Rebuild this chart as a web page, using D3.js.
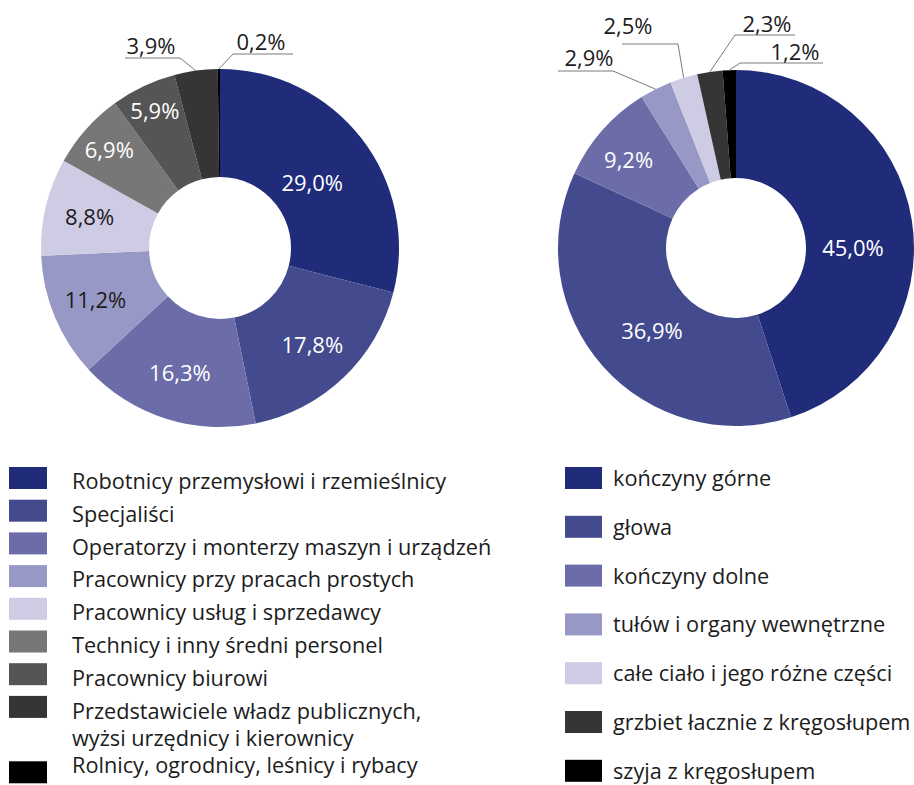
<!DOCTYPE html>
<html>
<head>
<meta charset="utf-8">
<script src="https://cdn.jsdelivr.net/npm/d3@7"></script>
<style>
  body { margin: 0; background: #fff; }
  svg { display: block; font-family: "Open Sans", sans-serif; }
</style>
</head>
<body>
<div id="chart"></div>
<script>
// Left donut: occupations
const jobLabels = [
  "Robotnicy przemysłowi i rzemieślnicy",
  "Specjaliści",
  "Operatorzy i monterzy maszyn i urządzeń",
  "Pracownicy przy pracach prostych",
  "Pracownicy usług i sprzedawcy",
  "Technicy i inny średni personel",
  "Pracownicy biurowi",
  "Przedstawiciele władz publicznych,\nwyżsi urzędnicy i kierownicy",
  "Rolnicy, ogrodnicy, leśnicy i rybacy"
];
const jobValues = [29.0, 17.8, 16.3, 11.2, 8.8, 6.9, 5.9, 3.9, 0.2];

// Right donut: injured body parts
const bodyLabels = [
  "kończyny górne",
  "głowa",
  "kończyny dolne",
  "tułów i organy wewnętrzne",
  "całe ciało i jego różne części",
  "grzbiet łacznie z kręgosłupem",
  "szyja z kręgosłupem"
];
const bodyValues = [45.0, 36.9, 9.2, 2.9, 2.5, 2.3, 1.2];

const jobColors = ["#202b7a", "#434b8e", "#6b6ca8", "#9898c7", "#cdcce4", "#777777", "#555555", "#353535", "#000000"];
const bodyColors = ["#202b7a", "#434b8e", "#6b6ca8", "#9898c7", "#cdcce4", "#353535", "#000000"];

const fmt = v => d3.format(".1f")(v).replace(".", ",") + "%";

const svg = d3.select("#chart").append("svg")
  .attr("width", 914)
  .attr("height", 785);

function donut(opts) {
  const g = svg.append("g").attr("transform", `translate(${opts.cx},${opts.cy})`);
  const pie = d3.pie().sort(null).value(d => d);
  const arcs = pie(opts.values);
  const arc = d3.arc().innerRadius(opts.r0).outerRadius(opts.r1);
  const rim = d3.arc().innerRadius(opts.r1).outerRadius(opts.r1);

  g.selectAll("path.slice")
    .data(arcs)
    .enter().append("path")
    .attr("class", "slice")
    .attr("d", arc)
    .attr("fill", (d, i) => opts.colors[i]);

  // labels inside the ring
  opts.inside.forEach(l => {
    const d = arcs[l.i];
    const a = (d.startAngle + d.endAngle) / 2 + (l.shift || 0) * Math.PI / 180;
    g.append("text")
      .attr("x", Math.sin(a) * l.r)
      .attr("y", -Math.cos(a) * l.r)
      .attr("dy", "0.36em")
      .attr("text-anchor", "middle")
      .attr("font-size", 22)
      .attr("fill", l.dark ? "#1c1c1c" : "#ffffff")
      .text(fmt(opts.values[l.i]));
  });

  // callouts for the small slices
  opts.outside.forEach(l => {
    const p = rim.centroid(arcs[l.i]);
    g.append("path")
      .attr("d", d3.line()([p, l.elbow, [l.end, l.elbow[1]]]))
      .attr("fill", "none")
      .attr("stroke", "#7a7a7a")
      .attr("stroke-width", 1);
    g.append("text")
      .attr("x", l.tx)
      .attr("y", l.elbow[1] - l.gap)
      .attr("text-anchor", "middle")
      .attr("font-size", 22)
      .attr("fill", "#1c1c1c")
      .text(fmt(opts.values[l.i]));
  });
}

donut({
  cx: 220, cy: 248, r0: 71, r1: 179,
  values: jobValues, colors: jobColors,
  inside: [
    { i: 0, r: 113, shift: 2.5 },
    { i: 1, r: 134 },
    { i: 2, r: 131 },
    { i: 3, r: 135, dark: true },
    { i: 4, r: 134, dark: true },
    { i: 5, r: 148 },
    { i: 6, r: 152 }
  ],
  outside: [
    { i: 7, elbow: [-40, -190], end: -95, tx: -69, gap: 4 },
    { i: 8, elbow: [13, -194], end: 73, tx: 41, gap: 4 }
  ]
});

donut({
  cx: 736, cy: 248, r0: 70, r1: 178,
  values: bodyValues, colors: bodyColors,
  inside: [
    { i: 0, r: 117, shift: 9 },
    { i: 1, r: 118, shift: -3 },
    { i: 2, r: 139, shift: -2 }
  ],
  outside: [
    { i: 3, elbow: [-123, -177], end: -178, tx: -147, gap: 5 },
    { i: 4, elbow: [-58, -204], end: -114, tx: -108, gap: 10 },
    { i: 5, elbow: [-1, -213], end: 59, tx: 31, gap: 3 },
    { i: 6, elbow: [4, -185], end: 87, tx: 59, gap: 3 }
  ]
});

// left legend
const legL = svg.append("g").attr("font-size", 21.7).attr("fill", "#1c1c1c");
let slot = 0, baseY = 489, prevWrapped = false;
jobLabels.forEach((lab, i) => {
  const lines = lab.split("\n");
  if (i > 0) baseY += prevWrapped ? 27 : 32.8;
  legL.append("rect")
    .attr("x", 9).attr("y", 467 + slot * 32.7)
    .attr("width", 38).attr("height", 22)
    .attr("fill", jobColors[i]);
  lines.forEach((t, k) => {
    legL.append("text")
      .attr("x", 72)
      .attr("y", baseY + k * 27)
      .text(t);
  });
  baseY += (lines.length - 1) * 27;
  prevWrapped = lines.length > 1;
  slot += lines.length;
});

// right legend
const legR = svg.append("g").attr("font-size", 21.7).attr("fill", "#1c1c1c");
bodyLabels.forEach((lab, i) => {
  const top = 467 + i * 48.8;
  legR.append("rect")
    .attr("x", 565).attr("y", top)
    .attr("width", 37).attr("height", 22)
    .attr("fill", bodyColors[i]);
  legR.append("text")
    .attr("x", 613)
    .attr("y", top + 19)
    .text(lab);
});
</script>
</body>
</html>
